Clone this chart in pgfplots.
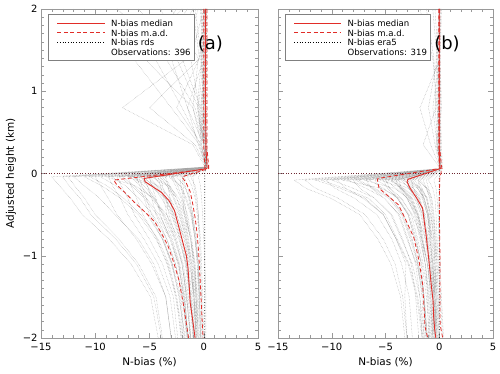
\documentclass[border=0pt]{standalone}
\usepackage{pgfplots}
\pgfplotsset{compat=1.18}
\usepackage{fontspec}
\setmainfont{DejaVu Sans}
\definecolor{medred}{RGB}{225,45,40}
\definecolor{zeroline}{RGB}{110,40,50}

\pgfplotsset{
  nbias/.style={
    scale only axis, height=329bp, anchor=south west,
    xmin=-15, xmax=5, ymin=-2, ymax=2,
    xtick={-15,-10,-5,0,5}, xticklabels={−15,−10,−5,0,5},
    ytick={-2,-1,0,1,2},
    minor x tick num=4, minor y tick num=9,
    tick align=inside, xtick pos=both, ytick pos=both,
    major tick length=5bp, minor tick length=3bp,
    axis line style={gray!80},
    every tick/.style={gray!80, line width=0.4pt},
    tick label style={font=\fontsize{10}{12}\selectfont},
    xticklabel style={yshift=-2bp},
    label style={font=\fontsize{10.5}{12}\selectfont},
    xlabel={N-bias (\%)},
  },
  prof/.style={gray!70, densely dotted, line width=0.45pt, unbounded coords=jump, forget plot},
  med/.style={draw=medred, line width=0.9pt, forget plot},
  mad/.style={draw=medred, line width=0.8pt, dash pattern=on 4bp off 2.5bp, forget plot},
  ref/.style={draw=black, dotted, line width=0.7pt, forget plot},
}
\tikzset{legtext/.style={anchor=west, inner sep=0pt, font=\fontsize{8.6}{9}\selectfont}}

% legend of one panel: white box, its border, three sample lines and four texts
\newcommand{\nlegend}[2]{%
  \addplot[draw=none, fill=white, forget plot] coordinates {(-14.35,1.94)(-0.85,1.94)(-0.85,1.38)(-14.35,1.38)(-14.35,1.94)};
  \addplot[draw=gray, line width=0.4pt, forget plot] coordinates {(-14.35,1.94)(-0.85,1.94)(-0.85,1.38)(-14.35,1.38)(-14.35,1.94)};
  \addplot[draw=white, line width=0.2pt, forget plot] coordinates {(-14.1,1.9)(-14.0,1.9)};
  \addplot[mad] coordinates {(-13.5,1.71)(-9.1,1.71)};
  \addplot[med] coordinates {(-13.5,1.83)(-9.1,1.83)};
  \addplot[ref] coordinates {(-13.5,1.59)(-9.1,1.59)};
  \node[legtext] at (axis cs:-8.55,1.83) {N-bias median};
  \node[legtext] at (axis cs:-8.55,1.71) {N-bias m.a.d.};
  \node[legtext] at (axis cs:-8.55,1.59) {N-bias #1};
  \node[legtext] at (axis cs:-8.55,1.47) {Observations: #2};}

\begin{document}
\begin{tikzpicture}
\path[use as bounding box] (0,0) rectangle (500bp,374bp);

% ---------------- panel (a)
\begin{axis}[nbias, at={(41bp,36bp)}, width=217bp,
  yticklabels={−2,−1,0,1,2}, ylabel={Adjusted height (km)}]

\addplot[prof] coordinates {
(0.0,2)(-0.3,1.4)(0.1,0.8)(0.2,0.35)(0.3,0.08)(-14,-0.04)(-13.3,-0.15)(-12.3,-0.3)(-11.2,-0.5)(-8.7,-0.8)(-6.7,-1.1)(-4.9,-1.5)(-4.2,-2)(nan,nan)
(-1.0,2)(-3.5,1.4)(-0.8,0.8)(0.1,0.35)(0.3,0.08)(-13,-0.04)(-12.4,-0.15)(-11.4,-0.3)(-10.4,-0.5)(-8.1,-0.8)(-6.2,-1.1)(-4.6,-1.5)(-3.9,-2)(nan,nan)
(0.2,2)(0.0,1.4)(-0.5,0.8)(0.0,0.35)(0.2,0.08)(-12,-0.04)(-11,-0.15)(-9.6,-0.3)(-8.2,-0.5)(-6.0,-0.8)(-4.6,-1.1)(-3.5,-1.5)(-3.0,-2)(nan,nan)
(-2.0,2)(-6.5,1.4)(-3.0,0.8)(-0.4,0.35)(0.2,0.08)(-11,-0.04)(-9.4,-0.15)(-7.7,-0.3)(-6.0,-0.5)(-4.4,-0.8)(-3.3,-1.1)(-2.6,-1.5)(-2.0,-2)(nan,nan)
(0.1,2)(0.2,1.4)(-0.2,0.8)(0.1,0.35)(0.3,0.08)(-10,-0.04)(-9.5,-0.15)(-8.8,-0.3)(-8.0,-0.5)(-6.2,-0.8)(-4.8,-1.1)(-3.5,-1.5)(-3.0,-2)(nan,nan)
(-4.0,2)(-1.5,1.4)(-7.5,0.8)(-1.0,0.35)(0.1,0.08)(-9.5,-0.04)(-8.1,-0.15)(-6.7,-0.3)(-5.2,-0.5)(-3.8,-0.8)(-2.9,-1.1)(-2.3,-1.5)(-1.7,-2)(nan,nan)
(0.0,2)(0.1,1.4)(0.0,0.8)(0.2,0.35)(0.3,0.08)(-9,-0.04)(-6.3,-0.15)(-4.7,-0.3)(-3.4,-0.5)(-2.3,-0.8)(-1.6,-1.1)(-1.2,-1.5)(-0.9,-2)(nan,nan)
(0.3,2)(-0.2,1.4)(-0.6,0.8)(0.0,0.35)(0.2,0.08)(-8.5,-0.04)(-7.2,-0.15)(-6.0,-0.3)(-4.7,-0.5)(-3.4,-0.8)(-2.6,-1.1)(-2.0,-1.5)(-1.5,-2)(nan,nan)
(-6.0,2)(-2.5,1.4)(-0.5,0.8)(-0.2,0.35)(0.2,0.08)(-8,-0.04)(-7.6,-0.15)(-7.0,-0.3)(-6.4,-0.5)(-5.0,-0.8)(-3.8,-1.1)(-2.8,-1.5)(-2.4,-2)(nan,nan)
(0.0,2)(0.2,1.4)(0.1,0.8)(0.0,0.35)(0.3,0.08)(-7.5,-0.04)(-6.4,-0.15)(-5.3,-0.3)(-4.1,-0.5)(-3.0,-0.8)(-2.3,-1.1)(-1.8,-1.5)(-1.4,-2)(nan,nan)
(-1.5,2)(-4.5,1.4)(-2.0,0.8)(-0.3,0.35)(0.2,0.08)(-7,-0.04)(-4.9,-0.15)(-3.6,-0.3)(-2.7,-0.5)(-1.8,-0.8)(-1.3,-1.1)(-0.9,-1.5)(-0.7,-2)(nan,nan)
(0.1,2)(0.0,1.4)(0.2,0.8)(0.1,0.35)(0.3,0.08)(-6.5,-0.04)(-5.5,-0.15)(-4.6,-0.3)(-3.6,-0.5)(-2.6,-0.8)(-2.0,-1.1)(-1.6,-1.5)(-1.2,-2)(nan,nan)
(0.2,2)(-0.1,1.4)(0.0,0.8)(0.1,0.35)(0.2,0.08)(-6,-0.04)(-5.7,-0.15)(-5.3,-0.3)(-4.8,-0.5)(-3.7,-0.8)(-2.9,-1.1)(-2.1,-1.5)(-1.8,-2)(nan,nan)
(-3.0,2)(-0.5,1.4)(-1.0,0.8)(0.0,0.35)(0.3,0.08)(-6,-0.04)(-4.2,-0.15)(-3.1,-0.3)(-2.3,-0.5)(-1.6,-0.8)(-1.1,-1.1)(-0.8,-1.5)(-0.6,-2)(nan,nan)
(0.0,2)(0.1,1.4)(-0.1,0.8)(0.2,0.35)(0.3,0.08)(-5.5,-0.04)(-4.7,-0.15)(-3.9,-0.3)(-3.0,-0.5)(-2.2,-0.8)(-1.7,-1.1)(-1.3,-1.5)(-1.0,-2)(nan,nan)
(-0.5,2)(-2.0,1.4)(-0.3,0.8)(0.0,0.35)(0.2,0.08)(-5,-0.04)(-4.3,-0.15)(-3.5,-0.3)(-2.8,-0.5)(-2.0,-0.8)(-1.5,-1.1)(-1.2,-1.5)(-0.9,-2)(nan,nan)
(0.1,2)(0.2,1.4)(0.0,0.8)(0.1,0.35)(0.3,0.08)(-5,-0.04)(-4.8,-0.15)(-4.4,-0.3)(-4.0,-0.5)(-3.1,-0.8)(-2.4,-1.1)(-1.8,-1.5)(-1.5,-2)(nan,nan)
(0.0,2)(-0.2,1.4)(0.1,0.8)(0.0,0.35)(0.2,0.08)(-4.5,-0.04)(-3.2,-0.15)(-2.3,-0.3)(-1.7,-0.5)(-1.2,-0.8)(-0.8,-1.1)(-0.6,-1.5)(-0.5,-2)(nan,nan)
(-1.0,2)(-0.4,1.4)(-2.5,0.8)(-0.2,0.35)(0.3,0.08)(-4,-0.04)(-3.4,-0.15)(-2.8,-0.3)(-2.2,-0.5)(-1.6,-0.8)(-1.2,-1.1)(-1.0,-1.5)(-0.7,-2)(nan,nan)
(0.2,2)(0.1,1.4)(0.0,0.8)(0.2,0.35)(0.3,0.08)(-3.5,-0.04)(-3.3,-0.15)(-3.1,-0.3)(-2.8,-0.5)(-2.2,-0.8)(-1.7,-1.1)(-1.2,-1.5)(-1.0,-2)(nan,nan)
(0.0,2)(0.0,1.4)(0.1,0.8)(0.1,0.35)(0.2,0.08)(-3,-0.04)(-2.6,-0.15)(-2.1,-0.3)(-1.7,-0.5)(-1.2,-0.8)(-0.9,-1.1)(-0.7,-1.5)(-0.5,-2)(nan,nan)
(-0.3,2)(0.1,1.4)(-0.2,0.8)(0.0,0.35)(0.3,0.08)(-2.5,-0.04)(-1.8,-0.15)(-1.3,-0.3)(-1.0,-0.5)(-0.7,-0.8)(-0.5,-1.1)(-0.3,-1.5)(-0.3,-2)(nan,nan)
(0.1,2)(0.0,1.4)(0.1,0.8)(0.2,0.35)(0.3,0.08)(-2,-0.04)(-1.7,-0.15)(-1.4,-0.3)(-1.1,-0.5)(-0.8,-0.8)(-0.6,-1.1)(-0.5,-1.5)(-0.4,-2)(nan,nan)
(0.2,2)(0.2,1.4)(0.0,0.8)(0.1,0.35)(0.4,0.08)(-1.5,-0.04)(-1.1,-0.15)(-0.8,-0.3)(-0.6,-0.5)(-0.4,-0.8)(-0.3,-1.1)(-0.2,-1.5)(-0.1,-2)(nan,nan)
(0.0,2)(0.1,1.4)(0.2,0.8)(0.2,0.35)(0.3,0.08)(-1,-0.04)(-0.9,-0.15)(-0.7,-0.3)(-0.5,-0.5)(-0.4,-0.8)(-0.3,-1.1)(-0.2,-1.5)(-0.2,-2)(nan,nan)
(0.1,2)(0.0,1.4)(0.1,0.8)(0.3,0.35)(0.4,0.08)(-0.5,-0.04)(-0.3,-0.15)(-0.2,-0.3)(-0.1,-0.5)(0.0,-0.8)(0.1,-1.1)(0.2,-1.5)(0.2,-2)(nan,nan)
(-8.0,2)(-3.0,1.4)(-1.5,0.8)(-0.5,0.35)(0.2,0.08)(-4,-0.04)(-3.8,-0.15)(-3.5,-0.3)(-3.2,-0.5)(-2.5,-0.8)(-1.9,-1.1)(-1.4,-1.5)(-1.2,-2)(nan,nan)
(0.0,2)(-0.4,1.4)(-5.0,0.8)(-0.8,0.35)(0.2,0.08)(-7,-0.04)(-6.7,-0.15)(-6.2,-0.3)(-5.6,-0.5)(-4.3,-0.8)(-3.4,-1.1)(-2.5,-1.5)(-2.1,-2)(nan,nan)
(0.3,2)(0.1,1.4)(0.2,0.8)(0.1,0.35)(0.4,0.08)(-3,-0.04)(-2.1,-0.15)(-1.6,-0.3)(-1.1,-0.5)(-0.8,-0.8)(-0.5,-1.1)(-0.4,-1.5)(-0.3,-2)(nan,nan)
(0.2,2)(0.3,1.4)(0.1,0.8)(0.2,0.35)(0.4,0.08)(-2,-0.04)(-1.9,-0.15)(-1.8,-0.3)(-1.6,-0.5)(-1.2,-0.8)(-1.0,-1.1)(-0.7,-1.5)(-0.6,-2)(nan,nan)
(0.1,2)(-0.2,1.4)(0.0,0.8)(0.1,0.35)(0.3,0.08)(-6.8,-0.04)(-5.8,-0.15)(-4.8,-0.3)(-3.7,-0.5)(-2.7,-0.8)(-2.0,-1.1)(-1.6,-1.5)(-1.2,-2)(nan,nan)
(0.0,2)(0.1,1.4)(-0.3,0.8)(0.0,0.35)(0.2,0.08)(-5.8,-0.04)(-5.2,-0.15)(-4.5,-0.3)(-3.8,-0.5)(-2.9,-0.8)(-2.2,-1.1)(-1.7,-1.5)(-1.5,-2)(nan,nan)
(-0.8,2)(-0.2,1.4)(0.0,0.8)(0.1,0.35)(0.3,0.08)(-5.2,-0.04)(-4.4,-0.15)(-3.6,-0.3)(-2.9,-0.5)(-2.1,-0.8)(-1.6,-1.1)(-1.2,-1.5)(-0.9,-2)(nan,nan)
(0.1,2)(0.0,1.4)(0.1,0.8)(0.2,0.35)(0.3,0.08)(-4.8,-0.04)(-3.4,-0.15)(-2.5,-0.3)(-1.8,-0.5)(-1.2,-0.8)(-0.9,-1.1)(-0.6,-1.5)(-0.5,-2)(nan,nan)
(0.0,2)(-1.2,1.4)(-0.4,0.8)(0.0,0.35)(0.2,0.08)(-6.2,-0.04)(-5.9,-0.15)(-5.5,-0.3)(-5.0,-0.5)(-3.8,-0.8)(-3.0,-1.1)(-2.2,-1.5)(-1.9,-2)(nan,nan)
(0.2,2)(0.0,1.4)(0.1,0.8)(0.0,0.35)(0.3,0.08)(-7.8,-0.04)(-6.6,-0.15)(-5.5,-0.3)(-4.3,-0.5)(-3.1,-0.8)(-2.3,-1.1)(-1.9,-1.5)(-1.4,-2)(nan,nan)
(-2.5,2)(-5.5,1.4)(-1.0,0.8)(-0.2,0.35)(0.2,0.08)(-8.8,-0.04)(-8.4,-0.15)(-7.7,-0.3)(-7.0,-0.5)(-5.5,-0.8)(-4.2,-1.1)(-3.1,-1.5)(-2.6,-2)(nan,nan)
(0.0,2)(0.1,1.4)(0.0,0.8)(0.2,0.35)(0.3,0.08)(-3.8,-0.04)(-3.2,-0.15)(-2.7,-0.3)(-2.1,-0.5)(-1.5,-0.8)(-1.1,-1.1)(-0.9,-1.5)(-0.7,-2)(nan,nan)
(0.1,2)(0.0,1.4)(-0.2,0.8)(0.1,0.35)(0.3,0.08)(-4.2,-0.04)(-4.0,-0.15)(-3.7,-0.3)(-3.4,-0.5)(-2.6,-0.8)(-2.0,-1.1)(-1.5,-1.5)(-1.3,-2)(nan,nan)
(0.0,2)(0.2,1.4)(0.1,0.8)(0.1,0.35)(0.3,0.08)(-3.2,-0.04)(-2.2,-0.15)(-1.7,-0.3)(-1.2,-0.5)(-0.8,-0.8)(-0.6,-1.1)(-0.4,-1.5)(-0.3,-2)(nan,nan)
(0.1,2)(0.0,1.4)(0.1,0.8)(0.2,0.35)(0.3,0.08)(-2.8,-0.04)(-2.4,-0.15)(-2.0,-0.3)(-1.5,-0.5)(-1.1,-0.8)(-0.8,-1.1)(-0.7,-1.5)(-0.5,-2)(nan,nan)
(0.0,2)(0.1,1.4)(0.0,0.8)(0.1,0.35)(0.2,0.08)(-5.5,-0.04)(-5.2,-0.15)(-4.8,-0.3)(-4.4,-0.5)(-3.4,-0.8)(-2.6,-1.1)(-1.9,-1.5)(-1.6,-2)(nan,nan)
(-0.2,2)(0.0,1.4)(-1.5,0.8)(0.0,0.35)(0.3,0.08)(-6.6,-0.04)(-4.6,-0.15)(-3.4,-0.3)(-2.5,-0.5)(-1.7,-0.8)(-1.2,-1.1)(-0.9,-1.5)(-0.7,-2)(nan,nan)
(0.1,2)(0.0,1.4)(0.0,0.8)(0.1,0.35)(0.2,0.08)(-10.5,-0.04)(-8.9,-0.15)(-7.4,-0.3)(-5.8,-0.5)(-4.2,-0.8)(-3.2,-1.1)(-2.5,-1.5)(-1.9,-2)(nan,nan)
(0.0,2)(0.2,1.4)(-0.1,0.8)(0.0,0.35)(0.2,0.08)(-12.5,-0.04)(-11.9,-0.15)(-11.0,-0.3)(-10.0,-0.5)(-7.8,-0.8)(-6.0,-1.1)(-4.4,-1.5)(-3.8,-2)(nan,nan)
(0.2,2)(0.1,1.4)(0.2,0.8)(0.2,0.35)(0.4,0.08)(-1.8,-0.04)(-1.5,-0.15)(-1.3,-0.3)(-1.0,-0.5)(-0.7,-0.8)(-0.5,-1.1)(-0.4,-1.5)(-0.3,-2)(nan,nan)
(0.1,2)(0.2,1.4)(0.1,0.8)(0.2,0.35)(0.3,0.08)(-2.2,-0.04)(-2.1,-0.15)(-1.9,-0.3)(-1.8,-0.5)(-1.4,-0.8)(-1.1,-1.1)(-0.8,-1.5)(-0.7,-2)(nan,nan)
(-0.3,2)(-0.1,1.4)(0.0,0.8)(0.1,0.35)(0.3,0.08)(-4.6,-0.04)(-3.9,-0.15)(-3.2,-0.3)(-2.5,-0.5)(-1.8,-0.8)(-1.4,-1.1)(-1.1,-1.5)(-0.8,-2)(nan,nan)
(0.0,2)(0.0,1.4)(0.1,0.8)(0.1,0.35)(0.3,0.08)(-3.6,-0.04)(-3.1,-0.15)(-2.5,-0.3)(-2.0,-0.5)(-1.4,-0.8)(-1.1,-1.1)(-0.9,-1.5)(-0.6,-2)(nan,nan)
(0.1,2)(0.0,1.4)(0.1,0.8)(0.2,0.35)(0.4,0.08)(-1.2,-0.04)(-0.8,-0.15)(-0.6,-0.3)(-0.5,-0.5)(-0.3,-0.8)(-0.2,-1.1)(-0.1,-1.5)(0.0,-2)
};

\addplot[zeroline, dotted, line width=0.6pt, forget plot] coordinates {(-15,0)(5,0)};
\addplot[ref] coordinates {(0.2,2)(0.2,0.3)(0.2,0.08)(0.1,0)(0.1,-1)(0.1,-2)};

\addplot[mad] coordinates {(0.0,2)(0.0,0.3)(0.1,0.1)(0.1,0.05)(-8.3,-0.08)(-8.0,-0.14)(-7.2,-0.24)(-6.4,-0.35)(-5.4,-0.47)(-4.5,-0.59)(-3.8,-0.75)(-3.3,-0.88)(-2.8,-1.07)(-2.3,-1.29)(-1.9,-1.57)(-1.56,-1.86)(-1.4,-2.0)};
\addplot[mad] coordinates {(0.3,2)(0.3,0.3)(0.45,0.1)(0.45,0.06)(-2.0,-0.04)(-1.6,-0.12)(-1.25,-0.22)(-1.0,-0.38)(-0.78,-0.55)(-0.6,-0.75)(-0.47,-0.96)(-0.3,-1.37)(-0.15,-1.78)(-0.06,-2.0)};
\addplot[med] coordinates {(0.15,2)(0.15,1.0)(0.2,0.3)(0.3,0.1)(0.3,0.06)(-5.5,-0.06)(-5.4,-0.1)(-4.6,-0.17)(-3.9,-0.23)(-3.2,-0.33)(-2.7,-0.45)(-2.3,-0.65)(-2.0,-0.8)(-1.6,-1.0)(-1.45,-1.15)(-1.35,-1.35)(-1.25,-1.57)(-1.0,-1.8)(-0.9,-1.9)(-0.8,-2.0)};

\nlegend{rds}{396}
\node[font=\fontsize{18}{18}\selectfont] at (axis cs:0.6,1.57) {(a)};
\end{axis}

% ---------------- panel (b)
\begin{axis}[nbias, at={(278bp,36bp)}, width=215bp, yticklabels={}]

\addplot[prof] coordinates {
(0.0,2)(0.1,1.4)(-0.2,0.8)(0.0,0.35)(0.2,0.06)(-13.5,-0.08)(-12.4,-0.18)(-10.1,-0.3)(-7.4,-0.5)(-5.7,-0.8)(-4.5,-1.1)(-3.6,-1.5)(-3.2,-2)(nan,nan)
(-1.2,2)(-0.5,1.4)(-0.3,0.8)(-1.5,0.35)(0.1,0.06)(-12.5,-0.08)(-11.5,-0.18)(-9.4,-0.3)(-6.9,-0.5)(-5.2,-0.8)(-4.1,-1.1)(-3.4,-1.5)(-3.0,-2)(nan,nan)
(0.1,2)(0.0,1.4)(0.1,0.8)(-0.2,0.35)(0.2,0.06)(-11.5,-0.08)(-9.2,-0.18)(-6.9,-0.3)(-5.2,-0.5)(-4.0,-0.8)(-2.9,-1.1)(-2.1,-1.5)(-1.6,-2)(nan,nan)
(0.0,2)(-0.2,1.4)(-1.0,0.8)(-0.4,0.35)(0.1,0.06)(-10.5,-0.08)(-9.7,-0.18)(-7.9,-0.3)(-5.8,-0.5)(-4.4,-0.8)(-3.5,-1.1)(-2.8,-1.5)(-2.5,-2)(nan,nan)
(0.2,2)(0.1,1.4)(0.0,0.8)(0.0,0.35)(0.2,0.06)(-10,-0.08)(-8.0,-0.18)(-6.0,-0.3)(-4.5,-0.5)(-3.5,-0.8)(-2.5,-1.1)(-1.8,-1.5)(-1.4,-2)(nan,nan)
(0.0,2)(0.0,1.4)(0.1,0.8)(0.1,0.35)(0.2,0.06)(-9,-0.08)(-5.4,-0.18)(-3.6,-0.3)(-2.5,-0.5)(-1.6,-0.8)(-1.1,-1.1)(-0.7,-1.5)(-0.5,-2)(nan,nan)
(-1.8,2)(-0.6,1.4)(-0.2,0.8)(0.0,0.35)(0.1,0.06)(-8.5,-0.08)(-6.8,-0.18)(-5.1,-0.3)(-3.8,-0.5)(-3.0,-0.8)(-2.1,-1.1)(-1.5,-1.5)(-1.2,-2)(nan,nan)
(0.1,2)(0.0,1.4)(-0.1,0.8)(-0.3,0.35)(0.2,0.06)(-8,-0.08)(-7.4,-0.18)(-6.0,-0.3)(-4.4,-0.5)(-3.4,-0.8)(-2.6,-1.1)(-2.2,-1.5)(-1.9,-2)(nan,nan)
(0.0,2)(0.1,1.4)(0.2,0.8)(0.0,0.35)(0.2,0.06)(-7.5,-0.08)(-6.0,-0.18)(-4.5,-0.3)(-3.4,-0.5)(-2.6,-0.8)(-1.9,-1.1)(-1.4,-1.5)(-1.1,-2)(nan,nan)
(0.0,2)(-0.3,1.4)(-0.1,0.8)(0.1,0.35)(0.2,0.06)(-7,-0.08)(-4.2,-0.18)(-2.8,-0.3)(-2.0,-0.5)(-1.3,-0.8)(-0.8,-1.1)(-0.6,-1.5)(-0.4,-2)(nan,nan)
(0.1,2)(0.0,1.4)(0.0,0.8)(-0.1,0.35)(0.2,0.06)(-6.5,-0.08)(-5.2,-0.18)(-3.9,-0.3)(-2.9,-0.5)(-2.3,-0.8)(-1.6,-1.1)(-1.2,-1.5)(-0.9,-2)(nan,nan)
(0.0,2)(0.1,1.4)(-1.8,0.8)(-0.8,0.35)(0.1,0.06)(-6,-0.08)(-5.5,-0.18)(-4.5,-0.3)(-3.3,-0.5)(-2.5,-0.8)(-2.0,-1.1)(-1.6,-1.5)(-1.4,-2)(nan,nan)
(0.1,2)(0.0,1.4)(0.1,0.8)(0.0,0.35)(0.2,0.06)(-5.5,-0.08)(-3.3,-0.18)(-2.2,-0.3)(-1.5,-0.5)(-1.0,-0.8)(-0.7,-1.1)(-0.4,-1.5)(-0.3,-2)(nan,nan)
(0.0,2)(0.1,1.4)(0.0,0.8)(0.1,0.35)(0.2,0.06)(-5,-0.08)(-4.0,-0.18)(-3.0,-0.3)(-2.3,-0.5)(-1.8,-0.8)(-1.3,-1.1)(-0.9,-1.5)(-0.7,-2)(nan,nan)
(-0.4,2)(-0.1,1.4)(0.0,0.8)(0.1,0.35)(0.2,0.06)(-4.5,-0.08)(-3.6,-0.18)(-2.7,-0.3)(-2.0,-0.5)(-1.6,-0.8)(-1.1,-1.1)(-0.8,-1.5)(-0.6,-2)(nan,nan)
(0.1,2)(0.0,1.4)(0.1,0.8)(0.0,0.35)(0.2,0.06)(-4,-0.08)(-2.4,-0.18)(-1.6,-0.3)(-1.1,-0.5)(-0.7,-0.8)(-0.5,-1.1)(-0.3,-1.5)(-0.2,-2)(nan,nan)
(0.0,2)(0.1,1.4)(0.0,0.8)(-0.2,0.35)(0.1,0.06)(-4,-0.08)(-3.7,-0.18)(-3.0,-0.3)(-2.2,-0.5)(-1.7,-0.8)(-1.3,-1.1)(-1.1,-1.5)(-1.0,-2)(nan,nan)
(0.1,2)(0.1,1.4)(0.0,0.8)(0.1,0.35)(0.2,0.06)(-3.5,-0.08)(-2.8,-0.18)(-2.1,-0.3)(-1.6,-0.5)(-1.2,-0.8)(-0.9,-1.1)(-0.6,-1.5)(-0.5,-2)(nan,nan)
(0.0,2)(0.0,1.4)(0.1,0.8)(0.1,0.35)(0.2,0.06)(-3,-0.08)(-1.8,-0.18)(-1.2,-0.3)(-0.8,-0.5)(-0.5,-0.8)(-0.4,-1.1)(-0.2,-1.5)(-0.1,-2)(nan,nan)
(0.0,2)(0.1,1.4)(0.1,0.8)(0.0,0.35)(0.2,0.06)(-3,-0.08)(-2.4,-0.18)(-1.8,-0.3)(-1.4,-0.5)(-1.1,-0.8)(-0.8,-1.1)(-0.5,-1.5)(-0.4,-2)(nan,nan)
(0.1,2)(0.0,1.4)(0.0,0.8)(0.1,0.35)(0.2,0.06)(-2.5,-0.08)(-2.0,-0.18)(-1.5,-0.3)(-1.1,-0.5)(-0.9,-0.8)(-0.6,-1.1)(-0.5,-1.5)(-0.3,-2)(nan,nan)
(0.0,2)(0.1,1.4)(0.0,0.8)(0.1,0.35)(0.2,0.06)(-2,-0.08)(-1.2,-0.18)(-0.8,-0.3)(-0.6,-0.5)(-0.4,-0.8)(-0.2,-1.1)(-0.1,-1.5)(0.0,-2)(nan,nan)
(0.1,2)(0.0,1.4)(0.1,0.8)(0.1,0.35)(0.2,0.06)(-1.5,-0.08)(-1.2,-0.18)(-0.9,-0.3)(-0.7,-0.5)(-0.5,-0.8)(-0.4,-1.1)(-0.3,-1.5)(-0.2,-2)(nan,nan)
(0.0,2)(0.0,1.4)(0.0,0.8)(0.1,0.35)(0.2,0.06)(-1,-0.08)(-0.6,-0.18)(-0.4,-0.3)(-0.3,-0.5)(-0.2,-0.8)(-0.1,-1.1)(0.1,-1.5)(0.3,-2)(nan,nan)
(0.0,2)(0.1,1.4)(0.1,0.8)(0.2,0.35)(0.3,0.06)(-0.5,-0.08)(-0.3,-0.18)(-0.2,-0.3)(-0.1,-0.5)(0.0,-0.8)(0.1,-1.1)(0.2,-1.5)(0.4,-2)(nan,nan)
(0.0,2)(0.0,1.4)(-0.1,0.8)(0.0,0.35)(0.1,0.06)(-5,-0.08)(-4.6,-0.18)(-3.8,-0.3)(-2.8,-0.5)(-2.1,-0.8)(-1.7,-1.1)(-1.4,-1.5)(-1.2,-2)(nan,nan)
(0.1,2)(0.0,1.4)(0.0,0.8)(0.0,0.35)(0.2,0.06)(-9.5,-0.08)(-8.7,-0.18)(-7.1,-0.3)(-5.2,-0.5)(-4.0,-0.8)(-3.1,-1.1)(-3.2,-1.5)(-3.0,-2)(nan,nan)
(0.0,2)(0.0,1.4)(0.1,0.8)(0.1,0.35)(0.2,0.06)(-2,-0.08)(-1.8,-0.18)(-1.5,-0.3)(-1.1,-0.5)(-0.8,-0.8)(-0.7,-1.1)(-0.5,-1.5)(-0.5,-2)(nan,nan)
(0.0,2)(0.0,1.4)(0.1,0.8)(0.1,0.35)(0.2,0.06)(-3.2,-0.08)(-2.6,-0.18)(-1.9,-0.3)(-1.4,-0.5)(-1.1,-0.8)(-0.8,-1.1)(-0.6,-1.5)(-0.4,-2)(nan,nan)
(0.1,2)(0.0,1.4)(0.0,0.8)(0.1,0.35)(0.2,0.06)(-2.8,-0.08)(-1.7,-0.18)(-1.1,-0.3)(-0.8,-0.5)(-0.5,-0.8)(-0.3,-1.1)(-0.2,-1.5)(-0.1,-2)(nan,nan)
(0.0,2)(0.1,1.4)(0.0,0.8)(0.0,0.35)(0.2,0.06)(-4.2,-0.08)(-3.4,-0.18)(-2.5,-0.3)(-1.9,-0.5)(-1.5,-0.8)(-1.1,-1.1)(-0.8,-1.5)(-0.6,-2)(nan,nan)
(0.0,2)(0.0,1.4)(-0.4,0.8)(-0.1,0.35)(0.1,0.06)(-3.8,-0.08)(-3.5,-0.18)(-2.9,-0.3)(-2.1,-0.5)(-1.6,-0.8)(-1.3,-1.1)(-1.0,-1.5)(-0.9,-2)(nan,nan)
(0.1,2)(0.0,1.4)(0.1,0.8)(0.0,0.35)(0.2,0.06)(-2.3,-0.08)(-1.8,-0.18)(-1.4,-0.3)(-1.0,-0.5)(-0.8,-0.8)(-0.6,-1.1)(-0.4,-1.5)(-0.3,-2)(nan,nan)
(0.0,2)(0.1,1.4)(0.0,0.8)(0.1,0.35)(0.2,0.06)(-5.8,-0.08)(-4.6,-0.18)(-3.5,-0.3)(-2.6,-0.5)(-2.0,-0.8)(-1.5,-1.1)(-1.0,-1.5)(-0.8,-2)(nan,nan)
(-0.6,2)(-0.2,1.4)(0.0,0.8)(0.0,0.35)(0.1,0.06)(-6.8,-0.08)(-6.3,-0.18)(-5.1,-0.3)(-3.7,-0.5)(-2.9,-0.8)(-2.2,-1.1)(-1.8,-1.5)(-1.6,-2)(nan,nan)
(0.0,2)(0.1,1.4)(0.0,0.8)(0.1,0.35)(0.2,0.06)(-1.8,-0.08)(-1.1,-0.18)(-0.7,-0.3)(-0.5,-0.5)(-0.3,-0.8)(-0.2,-1.1)(-0.1,-1.5)(0.0,-2)(nan,nan)
(0.0,2)(0.0,1.4)(0.1,0.8)(0.0,0.35)(0.2,0.06)(-3.4,-0.08)(-2.0,-0.18)(-1.4,-0.3)(-1.0,-0.5)(-0.6,-0.8)(-0.4,-1.1)(-0.3,-1.5)(-0.2,-2)(nan,nan)
(0.1,2)(0.0,1.4)(0.0,0.8)(0.1,0.35)(0.2,0.06)(-4.8,-0.08)(-2.9,-0.18)(-1.9,-0.3)(-1.3,-0.5)(-0.9,-0.8)(-0.6,-1.1)(-0.4,-1.5)(-0.2,-2)(nan,nan)
(0.0,2)(0.0,1.4)(0.1,0.8)(0.0,0.35)(0.2,0.06)(-7.8,-0.08)(-6.2,-0.18)(-4.7,-0.3)(-3.5,-0.5)(-2.7,-0.8)(-2.0,-1.1)(-1.4,-1.5)(-1.1,-2)(nan,nan)
(0.0,2)(0.1,1.4)(0.0,0.8)(0.1,0.35)(0.2,0.06)(-2.6,-0.08)(-2.4,-0.18)(-2.0,-0.3)(-1.4,-0.5)(-1.1,-0.8)(-0.9,-1.1)(-0.7,-1.5)(-0.6,-2)(nan,nan)
(0.0,2)(0.0,1.4)(0.0,0.8)(0.1,0.35)(0.2,0.06)(-1.2,-0.08)(-1.0,-0.18)(-0.7,-0.3)(-0.5,-0.5)(-0.4,-0.8)(-0.3,-1.1)(-0.2,-1.5)(-0.1,-2)(nan,nan)
(0.1,2)(0.0,1.4)(0.0,0.8)(-0.2,0.35)(0.2,0.06)(-11.0,-0.08)(-8.8,-0.18)(-6.6,-0.3)(-5.0,-0.5)(-3.9,-0.8)(-2.8,-1.1)(-2.0,-1.5)(-1.5,-2)(nan,nan)
(0.0,2)(0.1,1.4)(0.0,0.8)(0.0,0.35)(0.1,0.06)(-5.2,-0.08)(-4.8,-0.18)(-3.9,-0.3)(-2.9,-0.5)(-2.2,-0.8)(-1.7,-1.1)(-1.4,-1.5)(-1.3,-2)(nan,nan)
(0.0,2)(0.0,1.4)(0.0,0.8)(0.1,0.35)(0.2,0.06)(-3.0,-0.08)(-2.8,-0.18)(-2.3,-0.3)(-1.7,-0.5)(-1.3,-0.8)(-1.0,-1.1)(-0.8,-1.5)(-0.7,-2)(nan,nan)
(0.1,2)(0.0,1.4)(-0.6,0.8)(-0.2,0.35)(0.1,0.06)(-4.4,-0.08)(-3.5,-0.18)(-2.6,-0.3)(-2.0,-0.5)(-1.5,-0.8)(-1.1,-1.1)(-0.8,-1.5)(-0.6,-2)(nan,nan)
(0.0,2)(0.0,1.4)(0.1,0.8)(0.1,0.35)(0.2,0.06)(-2.0,-0.08)(-1.6,-0.18)(-1.2,-0.3)(-0.9,-0.5)(-0.7,-0.8)(-0.5,-1.1)(-0.4,-1.5)(-0.3,-2)
};

\addplot[zeroline, dotted, line width=0.6pt, forget plot] coordinates {(-15,0)(5,0)};
\addplot[ref] coordinates {(0.0,2)(0.0,0.3)(0.05,0.06)(0.0,-0.08)(0.0,-1)(0.0,-2)};

\addplot[mad] coordinates {(-0.05,2)(-0.05,0.3)(0.0,0.1)(0.0,0.06)(-5.7,-0.06)(-5.76,-0.08)(-5.6,-0.18)(-4.7,-0.28)(-3.8,-0.38)(-3.2,-0.54)(-2.36,-0.78)(-1.88,-1.06)(-1.55,-1.34)(-1.4,-1.66)(-1.33,-1.86)(-1.07,-2.0)};
\addplot[mad] coordinates {(0.05,2)(0.05,0.3)(0.2,0.1)(0.25,0.06)(0.05,-0.06)(0.0,-0.34)(0.06,-0.94)(0.06,-1.74)(0.1,-1.85)(0.32,-2.0)};
\addplot[med] coordinates {(0.0,2)(0.0,0.3)(0.05,0.1)(0.1,0.06)(-2.9,-0.07)(-3.0,-0.1)(-2.7,-0.18)(-2.1,-0.3)(-1.55,-0.42)(-1.4,-0.58)(-1.23,-0.74)(-1.05,-0.95)(-0.9,-1.14)(-0.75,-1.35)(-0.58,-1.54)(-0.52,-1.74)(-0.42,-1.9)(-0.32,-2.0)};

\nlegend{era5}{319}
\node[font=\fontsize{18}{18}\selectfont] at (axis cs:0.72,1.57) {(b)};
\end{axis}
\end{tikzpicture}
\end{document}
